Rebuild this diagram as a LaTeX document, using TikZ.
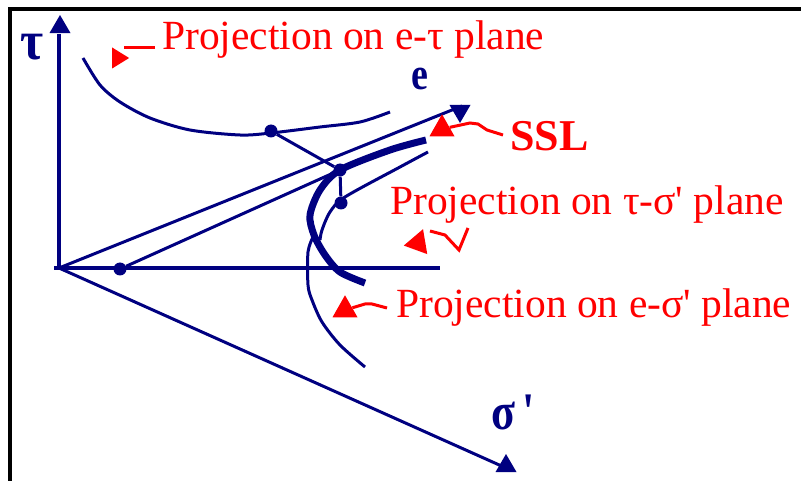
\documentclass[tikz,border=0pt]{standalone}
\usepackage{fontspec}
\setmainfont{Liberation Serif}
\usepackage{xcolor}
\usetikzlibrary{arrows.meta,positioning,calc,shapes.geometric}
\definecolor{DeepNavy}{HTML}{000080}
\definecolor{PureRed}{HTML}{FF0000}
\tikzset{
  axisline/.style={draw=DeepNavy,line width=3.6pt},
  thinline/.style={draw=DeepNavy,line width=3pt},
  sslline/.style={draw=DeepNavy,line width=7pt},
  statedot/.style={circle,fill=DeepNavy,inner sep=0pt,minimum size=13pt},
  axishead/.style={isosceles triangle,isosceles triangle stretches,fill=DeepNavy,inner sep=0pt,
              minimum height=18pt,minimum width=21pt},
  redhead/.style={isosceles triangle,isosceles triangle stretches,fill=PureRed,inner sep=0pt,
              minimum height=22pt,minimum width=25pt},
  leader/.style={draw=PureRed,line width=3pt},
  redlabel/.style={anchor=base west,inner sep=0pt,text=PureRed,font=\fontsize{41.5}{41.5}\selectfont},
  axislabel/.style={anchor=base west,inner sep=0pt,text=DeepNavy,yscale=1.2,font=\bfseries\fontsize{38}{38}\selectfont}
}
\begin{document}
\begin{tikzpicture}[x=1pt,y=-1pt]
  \useasboundingbox (0,0) rectangle (801,481);
  % frame, only two sides
  \draw[line width=4pt] (10,481) -- (10,9) -- (801,9);

  \coordinate (origin) at (59,268);
  \coordinate (tauend) at (59,34);
  \coordinate (sigend) at (440,268);
  \coordinate (eend) at (462,106);
  \coordinate (sigmaend) at (506,468);

  \node[statedot] (dotaxis) at (120,269) {};
  \node[statedot] (dotetau) at (271,131) {};
  \node[statedot] (dotssl) at (340,170) {};
  \node[statedot] (dottau) at (341,203) {};

  \draw[axisline] (origin) -- (tauend);
  \draw[axisline] (54,268) -- (sigend);
  \draw[thinline] (origin) -- (eend);
  \draw[thinline] (origin) -- (sigmaend);
  \draw[thinline] (dotaxis) -- (dotssl);
  \draw[thinline] (dotetau) -- (dotssl);
  \draw[thinline] (dotssl) -- (dottau);

  % the three projections and the SSL itself
  \draw[thinline] plot[smooth] coordinates {(83,58) (100,85) (120,102) (150,118) (190,130) (240,135) (271,133) (320,127) (360,122) (390,112)};
  \draw[thinline] plot[smooth] coordinates {(428,152) (400,167) (345,197) (330,212) (322,230) (320,240)};
  \draw[thinline] plot[smooth] coordinates {(313,237) (308,252) (308,285) (312,300) (322,322) (340,345) (365,367)};
  \draw[sslline] plot[smooth] coordinates {(426,140) (390,150) (340,170) (320,190) (310,215) (314,235) (325,255) (340,272) (365,283)};

  \node[axishead,rotate=90] (tauhead) at (60,27) {};
  \node[axishead,rotate=-90] (ehead) at (460,111) {};
  \node[axishead,rotate=90] (sigmahead) at (506,466) {};

  \node[axislabel,yscale=0.92,font=\bfseries\fontsize{50}{50}\selectfont] (taulabel) at (20,60) {τ};
  \node[axislabel] (elabel) at (411,90) {e};
  \node[axislabel,font=\bfseries\fontsize{44}{44}\selectfont] (sigmalabel) at (491,429) {σ\,\textquotesingle};

  \node[redlabel] (etaulabel) at (162,50) {Projection on e-τ plane};
  \node[redlabel] (ssllabel) at (510,151) {\bfseries\fontsize{44}{44}\selectfont SSL};
  \node[redlabel] (tausiglabel) at (390,215) {Projection on τ-σ\textquotesingle{} plane};
  \node[redlabel] (esiglabel) at (396,317) {Projection on e-σ\textquotesingle{} plane};

  \node[redhead,minimum width=21pt,minimum height=17pt] (etauhead) at (118,58) {};
  \node[redhead,rotate=90] (sslhead) at (442,129) {};
  \node[redhead,rotate=70] (tausighead) at (418,243) {};
  \node[redhead,rotate=90] (esighead) at (345,310) {};

  \coordinate (etaustart) at (155,48);
  \coordinate (sslstart) at (503,135);
  \coordinate (tausigstart) at (468,228);
  \coordinate (esigstart) at (387,308);

  \draw[leader] (etaustart) -- (124,48);
  \draw[leader] (sslstart) -- (487,130) -- (478,124) -- (470,123) -- (sslhead);
  \draw[leader] (tausigstart) -- (459,250) -- (445,235) -- (430,231);
  \draw[leader] (esigstart) -- (372,304) -- (365,304) -- (esighead);
\end{tikzpicture}
\end{document}
